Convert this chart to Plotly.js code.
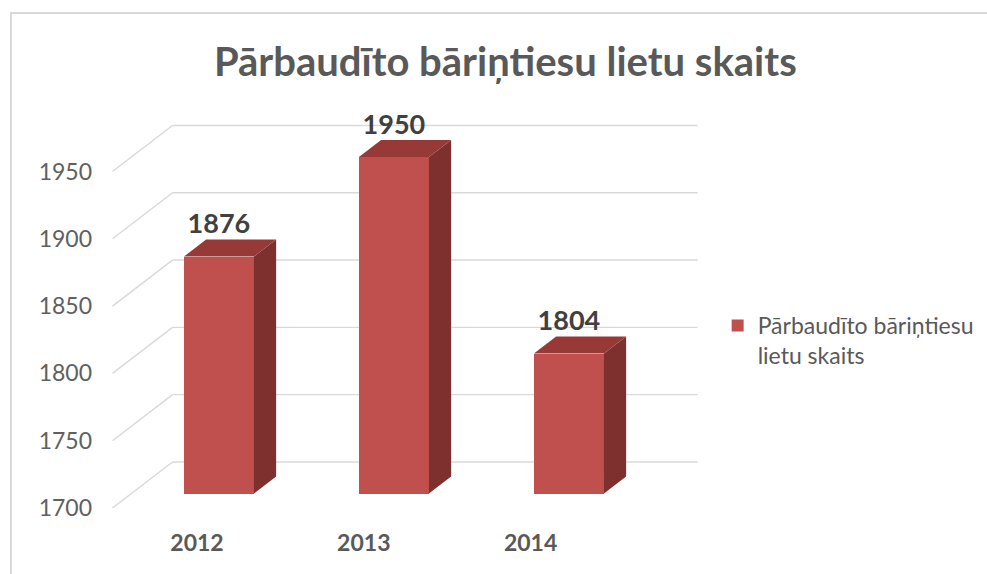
<!DOCTYPE html>
<html>
<head>
<meta charset="utf-8">
<script src="https://cdn.plot.ly/plotly-3.0.1.min.js"></script>
<style>
  html, body { margin: 0; padding: 0; background: #ffffff; overflow: hidden; }
  #frame { position: absolute; left: 10px; top: 12px; width: 1100px; height: 700px;
           border: 2px solid #d9d9d9; box-sizing: border-box; z-index: 0; }
  #chart { position: absolute; left: 0; top: 0; width: 987px; height: 574px; z-index: 1; }
</style>
</head>
<body>
<div id="frame"></div>
<div id="chart"></div>
<script>
// ---- data ----
const categories = ['2012', '2013', '2014'];
const values = [1876, 1950, 1804];
const yTicks = [1700, 1750, 1800, 1850, 1900, 1950];
const seriesName = 'Pārbaudīto bāriņtiesu lietu skaits';
const chartTitle = 'Pārbaudīto bāriņtiesu lietu skaits';

// ---- pseudo-3D geometry (in axis units) ----
const BASE = 1700;          // floor value
const DX = 0.343, DY = 34.2; // full depth vector (x units, y units)
const F0 = 0.315, F1 = 0.685; // bar front / back depth fractions
const W = 0.4;               // bar width
const idx = categories.map((c, i) => i);

const frontFill = '#C0504D', sideFill = '#7E302E', topFill = '#973A37';
const gridColor = '#d9d9d9';

// gridlines (side wall diagonals + back wall) as shapes below the bars
const shapes = [];
const xL = -0.5, xR = categories.length - 0.5;
yTicks.forEach(t => {
  shapes.push({type: 'line', xref: 'x', yref: 'y', layer: 'below',
    x0: xL, y0: t, x1: xL + DX, y1: t + DY, line: {color: gridColor, width: 1.4}});
  shapes.push({type: 'line', xref: 'x', yref: 'y', layer: 'below',
    x0: xL + DX, y0: t + DY, x1: xR + DX, y1: t + DY, line: {color: gridColor, width: 1.4}});
});

const traces = [];
// front faces
traces.push({
  type: 'bar',
  x: idx.map(i => i + F0 * DX),
  y: values.map(v => v - BASE),
  base: values.map(() => BASE + F0 * DY),
  width: W,
  marker: {color: frontFill, line: {width: 0}},
  name: 'Pārbaudīto bāriņtiesu<br>lietu skaits',
  hoverinfo: 'skip',
  showlegend: true
});
// side and top faces
const d = (F1 - F0);
values.forEach((v, i) => {
  const xf = i + F0 * DX;
  const yb = BASE + F0 * DY, yt = v + F0 * DY;
  const xr = xf + W / 2, xl = xf - W / 2;
  traces.push({
    type: 'scatter', mode: 'lines', fill: 'toself', fillcolor: sideFill,
    x: [xr, xr + d * DX, xr + d * DX, xr, xr],
    y: [yb, yb + d * DY, yt + d * DY, yt, yb],
    line: {width: 0, color: sideFill}, showlegend: false, hoverinfo: 'skip', cliponaxis: false
  });
  traces.push({
    type: 'scatter', mode: 'lines', fill: 'toself', fillcolor: topFill,
    x: [xl, xr, xr + d * DX, xl + d * DX, xl],
    y: [yt, yt, yt + d * DY, yt + d * DY, yt],
    line: {width: 0, color: topFill}, showlegend: false, hoverinfo: 'skip', cliponaxis: false
  });
});
// data labels
traces.push({
  type: 'scatter', mode: 'text',
  x: idx.map(i => i + F0 * DX),
  y: values.map(v => v + F0 * DY + 22.3),
  text: values.map(v => String(v)),
  textposition: 'middle center',
  textfont: {family: 'Lato, sans-serif', size: 27, color: '#404040', weight: 'bold'},
  showlegend: false, hoverinfo: 'skip', cliponaxis: false
});

const layout = {
  width: 987, height: 574,
  margin: {l: 112, r: 287, t: 100, b: 66, pad: 0, autoexpand: false},
  paper_bgcolor: 'rgba(0,0,0,0)',
  plot_bgcolor: 'rgba(0,0,0,0)',
  title: {
    text: chartTitle,
    x: 0.512, xref: 'container', xanchor: 'center',
    y: 1 - 62 / 574, yref: 'container', yanchor: 'middle',
    font: {family: 'Lato, sans-serif', size: 40, color: '#595959', weight: 'bold'}
  },
  xaxis: {
    range: [(112 - 200) / 175, (700 - 200) / 175],
    tickvals: idx.map(i => i * 0.953 - 0.017),
    ticktext: categories,
    showgrid: false, zeroline: false, showline: false, ticks: '',
    ticklabelstandoff: 19,
    tickfont: {family: 'Lato, sans-serif', size: 23, color: '#595959', weight: 'bold'},
    fixedrange: true
  },
  yaxis: {
    range: [BASE, BASE + 408 / 1.346],
    tickvals: yTicks,
    ticktext: yTicks.map(String),
    showgrid: false, zeroline: false, showline: false, ticks: '',
    ticklabelstandoff: 19,
    tickfont: {family: 'Lato, sans-serif', size: 23, color: '#606060'},
    fixedrange: true
  },
  shapes: shapes,
  showlegend: true,
  legend: {
    x: 1.030, xanchor: 'left', y: 0.50, yanchor: 'top',
    valign: 'top',
    bgcolor: 'rgba(0,0,0,0)',
    font: {family: 'Lato, sans-serif', size: 23, color: '#595959'},
    itemwidth: 30
  },
  bargap: 0
};

Plotly.newPlot('chart', traces, layout, {displayModeBar: false, staticPlot: true});
</script>
</body>
</html>
